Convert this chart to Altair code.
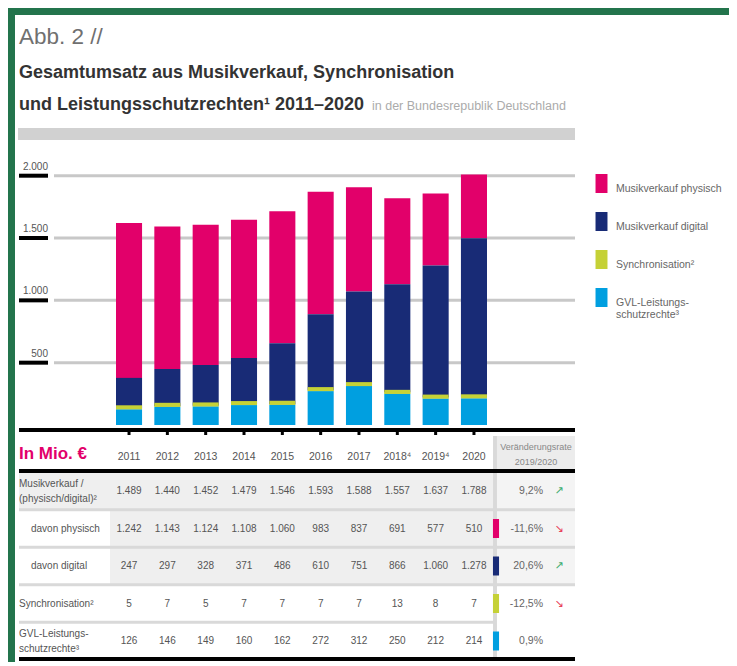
import altair as alt
import pandas as pd

F = "Liberation Sans, Arial, sans-serif"

years = ["2011", "2012", "2013", "2014", "2015", "2016", "2017", "2018", "2019", "2020"]
year_labels = ["2011", "2012", "2013", "2014", "2015", "2016", "2017", "2018⁴", "2019⁴", "2020"]
physisch = [1242, 1143, 1124, 1108, 1060, 983, 837, 691, 577, 510]
digital = [247, 297, 328, 371, 486, 610, 751, 866, 1060, 1278]
sync = [5, 7, 5, 7, 7, 7, 7, 13, 8, 7]
gvl = [126, 146, 149, 160, 162, 272, 312, 250, 212, 214]

series = ["Musikverkauf physisch", "Musikverkauf digital", "Synchronisation²", "GVL-Leistungs-|schutzrechte³"]
colors = ["#e2006a", "#182b76", "#c5d136", "#009fe0"]
stack_order = [3, 2, 1, 0]

tick_values = [500, 1000, 1500, 2000]
tick_labels = ["500", "1.000", "1.500", "2.000"]

row_labels = ["Musikverkauf /\n(physisch/digital)²", "davon physisch", "davon digital",
              "Synchronisation²", "GVL-Leistungs-\nschutzrechte³"]


def de(v):
    return f"{v:,}".replace(",", ".")


def pct(new, old):
    p = (new / old - 1) * 100
    return f"{p:.1f}".replace(".", ",") + "%"


musikverkauf = [p + d for p, d in zip(physisch, digital)]
row_series = [musikverkauf, physisch, digital, sync, gvl]

# ---------- data frames ----------
rows_bar = []
for s, vals, o in zip(series, [physisch, digital, sync, gvl], stack_order):
    for y, v in zip(years, vals):
        rows_bar.append({"year": y, "series": s, "value": v, "order": o})
df_bars = pd.DataFrame(rows_bar)
df_sync = pd.DataFrame({"year": years, "gvl": gvl})
df_ticks = pd.DataFrame({"tick": tick_values, "label": tick_labels})
df_years = pd.DataFrame({"year": years, "label": year_labels})

vals = []
for r, arr in enumerate(row_series, start=1):
    for y, v in zip(years, arr):
        vals.append({"row": r, "year": y, "text": de(v)})
df_vals = pd.DataFrame(vals)

df_labels = pd.DataFrame({"row": [1, 2, 3, 4, 5], "label": row_labels,
                          "kind": ["two", "indent", "indent", "one", "two"]})
changes = []
for r, arr in enumerate(row_series, start=1):
    p = (arr[-1] / arr[-2] - 1) * 100
    changes.append({"row": r, "text": pct(arr[-1], arr[-2]),
                    "dir": "up" if p > 1 else ("down" if p < -1 else "flat")})
df_change = pd.DataFrame(changes)
df_marker = pd.DataFrame({"row": [2, 3, 4, 5], "series": series})
df_rows = pd.DataFrame({"row": [1, 2, 3, 4, 5]})

W = 714
HA = 421
HB = 226

xscale = alt.Scale(type="band", domain=years, range=[101, 472], paddingInner=0.32, paddingOuter=0)
yscale = alt.Scale(domain=[0, 2000], range=[410, 160.7])
cscale = alt.Scale(domain=series, range=colors)


def txt(t, x, y, size, color, weight="normal", align="left"):
    return alt.Chart(pd.DataFrame({"t": [t]})).mark_text(
        font=F, fontSize=size, color=color, fontWeight=weight, align=align, baseline="alphabetic"
    ).encode(x=alt.value(x), y=alt.value(y), text="t:N")


# ---------- panel A ----------
title1 = txt("Abb. 2 //", 4, 29, 22.5, "#707070")
title2 = txt("Gesamtumsatz aus Musikverkauf, Synchronisation", 4, 63, 18, "#333333", "bold")
title3 = txt("und Leistungsschutzrechten¹ 2011–2020", 4, 95, 18, "#333333", "bold")
title4 = txt("in der Bundesrepublik Deutschland", 357, 95, 12.5, "#ababab")
band = alt.Chart(df_rows).mark_rect(color="#d1d1d1").encode(
    x=alt.value(3), x2=alt.value(560), y=alt.value(113), y2=alt.value(125))

grid = alt.Chart(df_ticks).mark_rule(color="#c8c8c8", strokeWidth=3).encode(
    y=alt.Y("tick:Q", scale=yscale, axis=None), x=alt.value(39), x2=alt.value(560))
dash = alt.Chart(df_ticks).mark_rule(color="#000000", strokeWidth=4).encode(
    y=alt.Y("tick:Q", scale=yscale, axis=None), x=alt.value(4), x2=alt.value(33))
ylab = alt.Chart(df_ticks).mark_text(font=F, fontSize=10, color="#555555", align="right",
                                     baseline="alphabetic", dy=-6).encode(
    y=alt.Y("tick:Q", scale=yscale, axis=None), x=alt.value(33), text="label:N")

bars = alt.Chart(df_bars).mark_bar().encode(
    x=alt.X("year:N", scale=xscale, axis=None),
    y=alt.Y("value:Q", scale=yscale, axis=None, stack="zero"),
    color=alt.Color("series:N", scale=cscale, legend=alt.Legend(
        orient="none", legendX=577, legendY=159, title=None, padding=0,
        symbolType="M-0.63,-1H0.63V1H-0.63Z", symbolSize=361, symbolStrokeWidth=0,
        symbolOpacity=1, rowPadding=18, labelOffset=5, labelFontSize=10.5, labelFont=F,
        labelColor="#666666", labelBaseline="top",
        labelExpr="split(datum.label, '|')")),
    order=alt.Order("order:Q", sort="ascending"),
)
synct = alt.Chart(df_sync).mark_tick(color="#c5d136", thickness=4, size=26, yOffset=-2, opacity=1).encode(
    x=alt.X("year:N", scale=xscale, axis=None),
    y=alt.Y("gvl:Q", scale=yscale, axis=None))
baseline = alt.Chart(df_rows).mark_rule(color="#000000", strokeWidth=4).encode(
    x=alt.value(4), x2=alt.value(560), y=alt.value(415))
xticks = alt.Chart(df_years).mark_rule(color="#000000", strokeWidth=3).encode(
    x=alt.X("year:N", scale=xscale, axis=None), y=alt.value(415), y2=alt.value(420))

panelA = alt.layer(title1, title2, title3, title4, band, grid, bars, synct, dash, ylab,
                   baseline, xticks).properties(width=W, height=HA)

# ---------- panel B ----------
rscale = alt.Scale(type="band", domain=[1, 2, 3, 4, 5], range=[36.25, 223.75], paddingInner=0, paddingOuter=0)

hdr_bg = alt.Chart(df_rows).mark_rect(color="#ececec").encode(
    x=alt.value(482), x2=alt.value(560), y=alt.value(0), y2=alt.value(34))
hdr1 = txt("Veränderungsrate", 521, 14, 9, "#888888", align="center")
hdr2 = txt("2019/2020", 521, 29, 9, "#888888", align="center")
mio = txt("In Mio. €", 4, 23, 17, "#e2006a", "bold")
yhdr = alt.Chart(df_years).mark_text(font=F, fontSize=10.5, color="#555555", baseline="middle").encode(
    x=alt.X("year:N", scale=xscale, axis=None), y=alt.value(21), text="label:N")

bg1 = alt.Chart(df_rows).transform_filter("datum.row == 1").mark_rect(color="#efefef").encode(
    y=alt.Y("row:O", scale=rscale, axis=None), x=alt.value(4), x2=alt.value(478))
bg23 = alt.Chart(df_rows).transform_filter("datum.row == 2 || datum.row == 3").mark_rect(color="#efefef").encode(
    y=alt.Y("row:O", scale=rscale, axis=None), x=alt.value(95), x2=alt.value(478))
bgr = alt.Chart(df_rows).transform_filter("datum.row <= 3").mark_rect(color="#f4f4f4").encode(
    y=alt.Y("row:O", scale=rscale, axis=None), x=alt.value(482), x2=alt.value(560))
seps = alt.Chart(df_rows).transform_filter("datum.row >= 2 && datum.row <= 4").mark_rule(
    color="#d9d9d9", strokeWidth=3).encode(
    y=alt.Y("row:O", scale=rscale, axis=None, bandPosition=0), x=alt.value(4), x2=alt.value(560))
sep5 = alt.Chart(df_rows).transform_filter("datum.row == 5").mark_rule(
    color="#d9d9d9", strokeWidth=3).encode(
    y=alt.Y("row:O", scale=rscale, axis=None, bandPosition=0), x=alt.value(4), x2=alt.value(480))
vline = alt.Chart(df_rows).mark_rule(color="#d9d9d9", strokeWidth=3).encode(
    x=alt.value(480), y=alt.value(0), y2=alt.value(223))
top_line = alt.Chart(df_rows).mark_rule(color="#000000", strokeWidth=4).encode(
    x=alt.value(4), x2=alt.value(560), y=alt.value(35))
bot_line = alt.Chart(df_rows).mark_rule(color="#000000", strokeWidth=4).encode(
    x=alt.value(4), x2=alt.value(560), y=alt.value(223))

values = alt.Chart(df_vals).mark_text(font=F, fontSize=10, color="#555555", baseline="middle").encode(
    x=alt.X("year:N", scale=xscale, axis=None),
    y=alt.Y("row:O", scale=rscale, axis=None), text="text:N")
lab_two = alt.Chart(df_labels).transform_filter("datum.kind == 'two'").mark_text(
    font=F, fontSize=10, color="#555555", align="left", baseline="middle", lineBreak="\n",
    lineHeight=15, dy=-7.5
).encode(y=alt.Y("row:O", scale=rscale, axis=None), x=alt.value(4), text="label:N")
lab_one = alt.Chart(df_labels).transform_filter("datum.kind == 'one'").mark_text(
    font=F, fontSize=10, color="#555555", align="left", baseline="middle"
).encode(y=alt.Y("row:O", scale=rscale, axis=None), x=alt.value(4), text="label:N")
lab_ind = alt.Chart(df_labels).transform_filter("datum.kind == 'indent'").mark_text(
    font=F, fontSize=10, color="#555555", align="left", baseline="middle"
).encode(y=alt.Y("row:O", scale=rscale, axis=None), x=alt.value(16), text="label:N")

markers = alt.Chart(df_marker).mark_point(shape="M-0.32,-1H0.32V1H-0.32Z", size=361, filled=True,
                                          opacity=1, strokeWidth=0).encode(
    y=alt.Y("row:O", scale=rscale, axis=None), x=alt.value(481),
    color=alt.Color("series:N", scale=cscale, legend=None))
chg = alt.Chart(df_change).mark_text(font=F, fontSize=10.5, color="#666666", align="right", baseline="middle").encode(
    y=alt.Y("row:O", scale=rscale, axis=None), x=alt.value(528), text="text:N")
up = alt.Chart(df_change).transform_filter("datum.dir == 'up'").mark_text(
    text="↗", font="DejaVu Sans", fontSize=11, color="#3fae72", baseline="middle").encode(
    y=alt.Y("row:O", scale=rscale, axis=None), x=alt.value(544))
down = alt.Chart(df_change).transform_filter("datum.dir == 'down'").mark_text(
    text="↘", font="DejaVu Sans", fontSize=11, color="#e8445a", baseline="middle").encode(
    y=alt.Y("row:O", scale=rscale, axis=None), x=alt.value(544))

panelB = alt.layer(hdr_bg, hdr1, hdr2, mio, yhdr, bg1, bg23, bgr, seps, sep5, vline, top_line, bot_line,
                   values, lab_two, lab_one, lab_ind, markers, chg, up, down).properties(width=W, height=HB)

chart = alt.vconcat(panelA, panelB, spacing=0, bounds="flush").resolve_scale(color="independent").properties(
    padding={"left": 7, "top": 7, "right": 0, "bottom": 0},
    background="#23744c",
).configure_view(fill="white", strokeWidth=0)

chart.save("out.html", embed_options={"renderer": "svg", "actions": False})
